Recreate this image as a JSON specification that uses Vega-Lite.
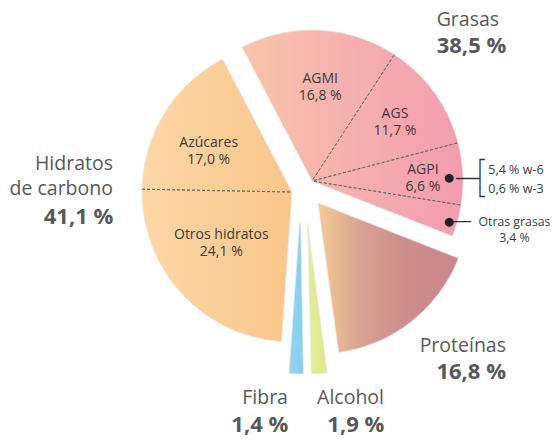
{
  "$schema": "https://vega.github.io/schema/vega-lite/v6.json",
  "width": 500,
  "height": 380,
  "autosize": {"type": "none"},
  "padding": {"left": 52, "top": 0, "right": 0, "bottom": 59},
  "background": "white",
  "config": {
    "view": {"stroke": null},
    "text": {"font": "Open Sans"},
    "locale": {"number": {"decimal": ",", "thousands": ".", "grouping": [3], "currency": ["", " %"]}}
  },
  "datasets": {
    "grupos": [
      {"grupo": "Grasas", "valor": 38.5, "orden": 1},
      {"grupo": "Proteínas", "valor": 16.8, "orden": 2},
      {"grupo": "Alcohol", "valor": 1.9, "orden": 3},
      {"grupo": "Fibra", "valor": 1.4, "orden": 4},
      {"grupo": "Hidratos de carbono", "nombre": "Hidratos\nde carbono", "valor": 41.1, "orden": 5}
    ],
    "partes": [
      {"grupo": "Grasas", "parte": "AGMI", "valor": 16.8, "orden": 1, "etiqueta": "AGMI\n16,8 %"},
      {"grupo": "Grasas", "parte": "AGS", "valor": 11.7, "orden": 2, "etiqueta": "AGS\n11,7 %"},
      {"grupo": "Grasas", "parte": "AGPI", "valor": 6.6, "orden": 3, "etiqueta": "AGPI\n6,6 %", "detalle": "5,4 % w-6\n0,6 % w-3"},
      {"grupo": "Grasas", "parte": "Otras grasas", "valor": 3.4, "orden": 4, "etiqueta": "Otras grasas\n3,4 %"},
      {"grupo": "Proteínas", "parte": "Proteínas", "valor": 16.8, "orden": 5},
      {"grupo": "Alcohol", "parte": "Alcohol", "valor": 1.9, "orden": 6},
      {"grupo": "Fibra", "parte": "Fibra", "valor": 1.4, "orden": 7},
      {"grupo": "Hidratos de carbono", "parte": "Otros hidratos", "valor": 24.1, "orden": 8, "etiqueta": "Otros hidratos\n24,1 %"},
      {"grupo": "Hidratos de carbono", "parte": "Azúcares", "valor": 17.0, "orden": 9, "etiqueta": "Azúcares\n17,0 %"}
    ]
  },
  "layer": [
    {
      "data": {"name": "grupos"},
      "transform": [
        {"stack": "valor", "groupby": [], "sort": [{"field": "orden", "order": "ascending"}], "as": ["g0", "g1"]},
        {"filter": {"field": "grupo", "equal": "Hidratos de carbono"}}
      ],
      "mark": {"type": "arc", "outerRadius": 150, "xOffset": -10, "yOffset": 2, "stroke": "#e6e6e6", "strokeWidth": 0.8,
        "fill": {"gradient": "linear", "x1": 0, "y1": 0, "x2": 1, "y2": 0, "stops": [{"offset": 0, "color": "#FCD7A7"}, {"offset": 1, "color": "#F9C68A"}]}},
      "encoding": {
        "theta": {"field": "g0", "type": "quantitative", "scale": {"domain": [0, 99.7], "range": [-0.481, 5.80219]}},
        "theta2": {"field": "g1"}
      }
    },
    {
      "data": {"name": "grupos"},
      "transform": [
        {"stack": "valor", "groupby": [], "sort": [{"field": "orden", "order": "ascending"}], "as": ["g0", "g1"]},
        {"filter": {"field": "grupo", "equal": "Grasas"}}
      ],
      "mark": {"type": "arc", "outerRadius": 151, "xOffset": 10, "yOffset": -9, "stroke": "#e6e6e6", "strokeWidth": 0.8,
        "fill": {"gradient": "linear", "x1": 0, "y1": 0, "x2": 1, "y2": 0, "stops": [{"offset": 0, "color": "#F8C5AA"}, {"offset": 0.5, "color": "#F5AFAF"}, {"offset": 1, "color": "#F39CAE"}]}},
      "encoding": {
        "theta": {"field": "g0", "type": "quantitative", "scale": {"domain": [0, 99.7], "range": [-0.481, 5.80219]}},
        "theta2": {"field": "g1"}
      }
    },
    {
      "data": {"name": "grupos"},
      "transform": [
        {"stack": "valor", "groupby": [], "sort": [{"field": "orden", "order": "ascending"}], "as": ["g0", "g1"]},
        {"filter": {"field": "grupo", "equal": "Proteínas"}}
      ],
      "mark": {"type": "arc", "outerRadius": 151, "xOffset": 16, "yOffset": 13, "stroke": "#e6e6e6", "strokeWidth": 0.8,
        "fill": {"gradient": "linear", "x1": 0, "y1": 0, "x2": 1, "y2": 0, "stops": [{"offset": 0, "color": "#F4CB97"}, {"offset": 0.3, "color": "#D8A291"}, {"offset": 0.65, "color": "#CD8B8B"}, {"offset": 1, "color": "#CB878A"}]}},
      "encoding": {
        "theta": {"field": "g0", "type": "quantitative", "scale": {"domain": [0, 99.7], "range": [-0.481, 5.80219]}},
        "theta2": {"field": "g1"}
      }
    },
    {
      "data": {"name": "grupos"},
      "transform": [
        {"stack": "valor", "groupby": [], "sort": [{"field": "orden", "order": "ascending"}], "as": ["g0", "g1"]},
        {"filter": {"field": "grupo", "equal": "Alcohol"}}
      ],
      "mark": {"type": "arc", "innerRadius": 33, "outerRadius": 184, "padAngle": 0.035, "xOffset": 3, "yOffset": 0, "stroke": "#e6e6e6", "strokeWidth": 0.8,
        "fill": {"gradient": "linear", "x1": 0, "y1": 0, "x2": 1, "y2": 0, "stops": [{"offset": 0, "color": "#E6EC96"}, {"offset": 1, "color": "#DEE98A"}]}},
      "encoding": {
        "theta": {"field": "g0", "type": "quantitative", "scale": {"domain": [0, 99.7], "range": [-0.481, 5.80219]}},
        "theta2": {"field": "g1"}
      }
    },
    {
      "data": {"name": "grupos"},
      "transform": [
        {"stack": "valor", "groupby": [], "sort": [{"field": "orden", "order": "ascending"}], "as": ["g0", "g1"]},
        {"filter": {"field": "grupo", "equal": "Fibra"}}
      ],
      "mark": {"type": "arc", "innerRadius": 33, "outerRadius": 184, "padAngle": 0.01, "xOffset": -1, "yOffset": 0, "stroke": "#e6e6e6", "strokeWidth": 0.8,
        "fill": {"gradient": "linear", "x1": 0, "y1": 0, "x2": 1, "y2": 0, "stops": [{"offset": 0, "color": "#92D3F0"}, {"offset": 1, "color": "#88CEEE"}]}},
      "encoding": {
        "theta": {"field": "g0", "type": "quantitative", "scale": {"domain": [0, 99.7], "range": [-0.481, 5.80219]}},
        "theta2": {"field": "g1"}
      }
    },
    {
      "data": {"name": "partes"},
      "transform": [
        {"stack": "valor", "groupby": [], "sort": [{"field": "orden", "order": "ascending"}], "as": ["t0", "t1"]},
        {"filter": {"field": "parte", "oneOf": ["AGMI", "AGS", "AGPI"]}}
      ],
      "mark": {"type": "arc", "innerRadius": 1, "outerRadius": 150, "xOffset": 10, "yOffset": -9, "filled": false, "stroke": "#6b6b6b", "strokeWidth": 0.9, "strokeDash": [3, 2]},
      "encoding": {
        "theta": {"field": "t1", "type": "quantitative", "scale": {"domain": [0, 99.7], "range": [-0.481, 5.80219]}},
        "theta2": {"field": "t1"}
      }
    },
    {
      "data": {"name": "partes"},
      "transform": [
        {"stack": "valor", "groupby": [], "sort": [{"field": "orden", "order": "ascending"}], "as": ["t0", "t1"]},
        {"filter": {"field": "parte", "equal": "Otros hidratos"}}
      ],
      "mark": {"type": "arc", "innerRadius": 1, "outerRadius": 150, "xOffset": -10, "yOffset": 2, "filled": false, "stroke": "#6b6b6b", "strokeWidth": 0.9, "strokeDash": [3, 2]},
      "encoding": {
        "theta": {"field": "t1", "type": "quantitative", "scale": {"domain": [0, 99.7], "range": [-0.481, 5.80219]}},
        "theta2": {"field": "t1"}
      }
    },
    {
      "data": {"name": "partes"},
      "mark": {"type": "text", "radius": 98, "dx": 13.5, "dy": -9.3, "align": "center", "baseline": "alphabetic", "fontSize": 14, "lineHeight": 17, "lineBreak": "\n", "color": "#3a3a3a"},
      "encoding": {
        "theta": {"field": "valor", "type": "quantitative", "stack": true, "scale": {"domain": [0, 99.7], "range": [-0.481, 5.80219]}},
        "order": {"field": "orden"},
        "text": {"condition": {"test": "datum.parte === 'AGMI'", "field": "etiqueta"}, "value": ""}
      }
    },
    {
      "data": {"name": "partes"},
      "mark": {"type": "text", "radius": 103, "dx": 9.4, "dy": -11.7, "align": "center", "baseline": "alphabetic", "fontSize": 14, "lineHeight": 17, "lineBreak": "\n", "color": "#3a3a3a"},
      "encoding": {
        "theta": {"field": "valor", "type": "quantitative", "stack": true, "scale": {"domain": [0, 99.7], "range": [-0.481, 5.80219]}},
        "order": {"field": "orden"},
        "text": {"condition": {"test": "datum.parte === 'AGS'", "field": "etiqueta"}, "value": ""}
      }
    },
    {
      "data": {"name": "partes"},
      "mark": {"type": "text", "radius": 111, "dx": 10, "dy": -11.2, "align": "center", "baseline": "alphabetic", "fontSize": 14, "lineHeight": 17, "lineBreak": "\n", "color": "#3a3a3a"},
      "encoding": {
        "theta": {"field": "valor", "type": "quantitative", "stack": true, "scale": {"domain": [0, 99.7], "range": [-0.481, 5.80219]}},
        "order": {"field": "orden"},
        "text": {"condition": {"test": "datum.parte === 'AGPI'", "field": "etiqueta"}, "value": ""}
      }
    },
    {
      "data": {"name": "partes"},
      "mark": {"type": "text", "radius": 137, "dx": 46, "dy": -18.45, "align": "right", "baseline": "alphabetic", "font": "DejaVu Sans Mono", "fontSize": 16, "lineHeight": 18.5, "lineBreak": "\n", "color": "#333333"},
      "encoding": {
        "theta": {"field": "valor", "type": "quantitative", "stack": true, "scale": {"domain": [0, 99.7], "range": [-0.481, 5.80219]}},
        "order": {"field": "orden"},
        "text": {"condition": {"test": "datum.parte === 'AGPI'", "value": "┌\n──┤\n└"}, "value": ""}
      }
    },
    {
      "data": {"name": "partes"},
      "mark": {"type": "text", "radius": 137, "dx": 10.2, "dy": -5.65, "align": "center", "baseline": "middle", "font": "DejaVu Sans", "fontSize": 11.5, "color": "#222222"},
      "encoding": {
        "theta": {"field": "valor", "type": "quantitative", "stack": true, "scale": {"domain": [0, 99.7], "range": [-0.481, 5.80219]}},
        "order": {"field": "orden"},
        "text": {"condition": {"test": "datum.parte === 'AGPI'", "value": "●"}, "value": ""}
      }
    },
    {
      "data": {"name": "partes"},
      "mark": {"type": "text", "radius": 137, "dx": 49.5, "dy": -9.15, "align": "left", "baseline": "alphabetic", "fontSize": 12.5, "lineHeight": 18.4, "lineBreak": "\n", "color": "#3a3a3a"},
      "encoding": {
        "theta": {"field": "valor", "type": "quantitative", "stack": true, "scale": {"domain": [0, 99.7], "range": [-0.481, 5.80219]}},
        "order": {"field": "orden"},
        "text": {"condition": {"test": "datum.parte === 'AGPI'", "field": "detalle"}, "value": ""}
      }
    },
    {
      "data": {"name": "partes"},
      "mark": {"type": "text", "radius": 142, "dx": 14, "dy": -0.3, "align": "left", "baseline": "alphabetic", "font": "DejaVu Sans Mono", "fontSize": 15, "color": "#333333"},
      "encoding": {
        "theta": {"field": "valor", "type": "quantitative", "stack": true, "scale": {"domain": [0, 99.7], "range": [-0.481, 5.80219]}},
        "order": {"field": "orden"},
        "text": {"condition": {"test": "datum.parte === 'Otras grasas'", "value": "──"}, "value": ""}
      }
    },
    {
      "data": {"name": "partes"},
      "mark": {"type": "text", "radius": 142, "dx": 10, "dy": -5.5, "align": "center", "baseline": "middle", "font": "DejaVu Sans", "fontSize": 11.5, "color": "#222222"},
      "encoding": {
        "theta": {"field": "valor", "type": "quantitative", "stack": true, "scale": {"domain": [0, 99.7], "range": [-0.481, 5.80219]}},
        "order": {"field": "orden"},
        "text": {"condition": {"test": "datum.parte === 'Otras grasas'", "value": "●"}, "value": ""}
      }
    },
    {
      "data": {"name": "partes"},
      "mark": {"type": "text", "radius": 142, "dx": 75.5, "dy": -1.2, "align": "center", "baseline": "alphabetic", "fontSize": 12.3, "lineHeight": 15.5, "lineBreak": "\n", "color": "#3a3a3a"},
      "encoding": {
        "theta": {"field": "valor", "type": "quantitative", "stack": true, "scale": {"domain": [0, 99.7], "range": [-0.481, 5.80219]}},
        "order": {"field": "orden"},
        "text": {"condition": {"test": "datum.parte === 'Otras grasas'", "field": "etiqueta"}, "value": ""}
      }
    },
    {
      "data": {"name": "partes"},
      "mark": {"type": "text", "radius": 95, "dx": -12.5, "dy": 7.2, "align": "center", "baseline": "alphabetic", "fontSize": 14, "lineHeight": 17, "lineBreak": "\n", "color": "#3a3a3a"},
      "encoding": {
        "theta": {"field": "valor", "type": "quantitative", "stack": true, "scale": {"domain": [0, 99.7], "range": [-0.481, 5.80219]}},
        "order": {"field": "orden"},
        "text": {"condition": {"test": "datum.parte === 'Azúcares'", "field": "etiqueta"}, "value": ""}
      }
    },
    {
      "data": {"name": "partes"},
      "mark": {"type": "text", "radius": 85, "dx": -18, "dy": -8.3, "align": "center", "baseline": "alphabetic", "fontSize": 14, "lineHeight": 17, "lineBreak": "\n", "color": "#3a3a3a"},
      "encoding": {
        "theta": {"field": "valor", "type": "quantitative", "stack": true, "scale": {"domain": [0, 99.7], "range": [-0.481, 5.80219]}},
        "order": {"field": "orden"},
        "text": {"condition": {"test": "datum.parte === 'Otros hidratos'", "field": "etiqueta"}, "value": ""}
      }
    },
    {
      "data": {"name": "grupos"},
      "mark": {"type": "text", "radius": 200, "dx": 1, "dy": -15.3, "align": "left", "baseline": "alphabetic", "fontSize": 19.5, "color": "#58585a"},
      "encoding": {
        "theta": {"field": "valor", "type": "quantitative", "stack": true, "scale": {"domain": [0, 99.7], "range": [-0.481, 5.80219]}},
        "order": {"field": "orden"},
        "text": {"condition": {"test": "datum.grupo === 'Grasas'", "field": "grupo"}, "value": ""}
      }
    },
    {
      "data": {"name": "grupos"},
      "mark": {"type": "text", "radius": 200, "dx": 1, "dy": 12, "align": "left", "baseline": "alphabetic", "fontSize": 22, "fontWeight": "bold", "color": "#58585a"},
      "encoding": {
        "theta": {"field": "valor", "type": "quantitative", "stack": true, "scale": {"domain": [0, 99.7], "range": [-0.481, 5.80219]}},
        "order": {"field": "orden"},
        "text": {"condition": {"test": "datum.grupo === 'Grasas'", "field": "valor", "type": "quantitative", "format": "$.1f"}, "value": ""}
      }
    },
    {
      "data": {"name": "grupos"},
      "mark": {"type": "text", "radius": 220, "dx": 67.9, "dy": -11.2, "align": "right", "baseline": "alphabetic", "fontSize": 19.5, "color": "#58585a"},
      "encoding": {
        "theta": {"field": "valor", "type": "quantitative", "stack": true, "scale": {"domain": [0, 99.7], "range": [-0.481, 5.80219]}},
        "order": {"field": "orden"},
        "text": {"condition": {"test": "datum.grupo === 'Proteínas'", "field": "grupo"}, "value": ""}
      }
    },
    {
      "data": {"name": "grupos"},
      "mark": {"type": "text", "radius": 220, "dx": 67.9, "dy": 16.4, "align": "right", "baseline": "alphabetic", "fontSize": 22, "fontWeight": "bold", "color": "#58585a"},
      "encoding": {
        "theta": {"field": "valor", "type": "quantitative", "stack": true, "scale": {"domain": [0, 99.7], "range": [-0.481, 5.80219]}},
        "order": {"field": "orden"},
        "text": {"condition": {"test": "datum.grupo === 'Proteínas'", "field": "valor", "type": "quantitative", "format": "$.1f"}, "value": ""}
      }
    },
    {
      "data": {"name": "grupos"},
      "mark": {"type": "text", "radius": 214, "dx": -8.4, "dy": 0.1, "align": "right", "baseline": "alphabetic", "fontSize": 19.5, "color": "#58585a"},
      "encoding": {
        "theta": {"field": "valor", "type": "quantitative", "stack": true, "scale": {"domain": [0, 99.7], "range": [-0.481, 5.80219]}},
        "order": {"field": "orden"},
        "text": {"condition": {"test": "datum.grupo === 'Fibra'", "field": "grupo"}, "value": ""}
      }
    },
    {
      "data": {"name": "grupos"},
      "mark": {"type": "text", "radius": 214, "dx": -8.1, "dy": 27.8, "align": "right", "baseline": "alphabetic", "fontSize": 22, "fontWeight": "bold", "color": "#58585a"},
      "encoding": {
        "theta": {"field": "valor", "type": "quantitative", "stack": true, "scale": {"domain": [0, 99.7], "range": [-0.481, 5.80219]}},
        "order": {"field": "orden"},
        "text": {"condition": {"test": "datum.grupo === 'Fibra'", "field": "valor", "type": "quantitative", "format": "$.1f"}, "value": ""}
      }
    },
    {
      "data": {"name": "grupos"},
      "mark": {"type": "text", "radius": 214, "dx": 65.4, "dy": 0.6, "align": "right", "baseline": "alphabetic", "fontSize": 19.5, "color": "#58585a"},
      "encoding": {
        "theta": {"field": "valor", "type": "quantitative", "stack": true, "scale": {"domain": [0, 99.7], "range": [-0.481, 5.80219]}},
        "order": {"field": "orden"},
        "text": {"condition": {"test": "datum.grupo === 'Alcohol'", "field": "grupo"}, "value": ""}
      }
    },
    {
      "data": {"name": "grupos"},
      "mark": {"type": "text", "radius": 214, "dx": 65.7, "dy": 28.3, "align": "right", "baseline": "alphabetic", "fontSize": 22, "fontWeight": "bold", "color": "#58585a"},
      "encoding": {
        "theta": {"field": "valor", "type": "quantitative", "stack": true, "scale": {"domain": [0, 99.7], "range": [-0.481, 5.80219]}},
        "order": {"field": "orden"},
        "text": {"condition": {"test": "datum.grupo === 'Alcohol'", "field": "valor", "type": "quantitative", "format": "$.1f"}, "value": ""}
      }
    },
    {
      "data": {"name": "grupos"},
      "mark": {"type": "text", "radius": 180, "dx": -12.8, "dy": -56.7, "align": "right", "baseline": "alphabetic", "fontSize": 19.5, "lineHeight": 25.3, "lineBreak": "\n", "color": "#58585a"},
      "encoding": {
        "theta": {"field": "valor", "type": "quantitative", "stack": true, "scale": {"domain": [0, 99.7], "range": [-0.481, 5.80219]}},
        "order": {"field": "orden"},
        "text": {"condition": {"test": "datum.grupo === 'Hidratos de carbono'", "field": "nombre"}, "value": ""}
      }
    },
    {
      "data": {"name": "grupos"},
      "mark": {"type": "text", "radius": 180, "dx": -12.5, "dy": -2.4, "align": "right", "baseline": "alphabetic", "fontSize": 22, "fontWeight": "bold", "color": "#58585a"},
      "encoding": {
        "theta": {"field": "valor", "type": "quantitative", "stack": true, "scale": {"domain": [0, 99.7], "range": [-0.481, 5.80219]}},
        "order": {"field": "orden"},
        "text": {"condition": {"test": "datum.grupo === 'Hidratos de carbono'", "field": "valor", "type": "quantitative", "format": "$.1f"}, "value": ""}
      }
    }
  ]
}
